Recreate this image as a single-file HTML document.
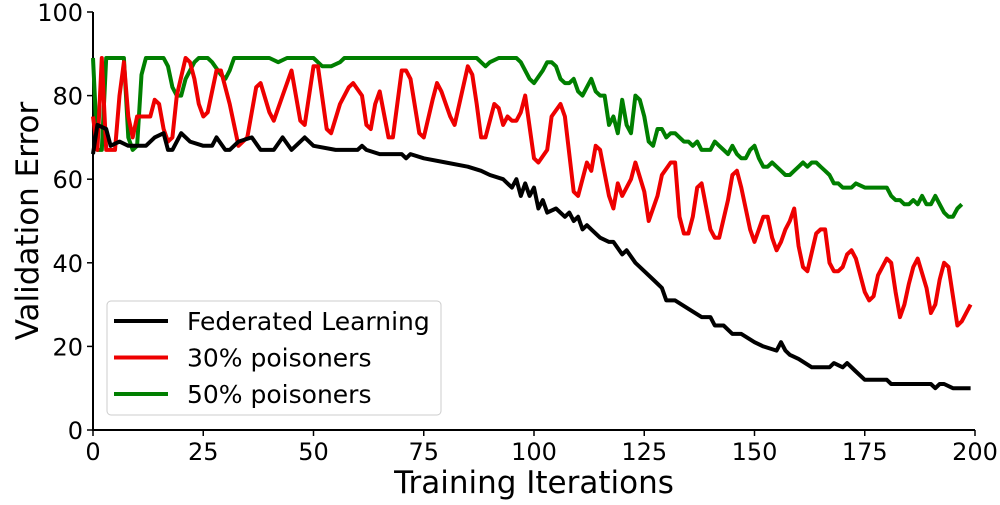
<!DOCTYPE html>
<html><head><meta charset="utf-8"><style>
body{margin:0;background:#fff;}
svg text{font-family:"DejaVu Sans","Liberation Sans",sans-serif;fill:#000;}
</style></head><body>
<svg id="chart" width="1000" height="500" xmlns="http://www.w3.org/2000/svg"></svg>
<script>
const xTicks=[0,25,50,75,100,125,150,175,200];
const yTicks=[0,20,40,60,80,100];
const seriesNames=["Federated Learning","30% poisoners","50% poisoners"];
const seriesColors=["#000000","#ee0000","#007f00"];
const flX=[0,1,3,4,6,8,12,14,16,17,18,20,22,25,27,28,30,31,33,36,38,41,43,45,48,50,55,60,61,62,65,70,71,72,75,80,85,88,90,93,95,96,97,98,99,100,101,102,103,105,107,108,109,110,111,112,113,115,117,118,120,121,123,125,127,129,130,132,135,138,140,141,143,145,147,150,152,155,156,157,158,160,163,165,167,168,170,171,173,175,180,181,185,190,191,192,193,195,199];
const flY=[66,73,72,68,69,68,68,70,71,67,67,71,69,68,68,70,67,67,69,70,67,67,70,67,70,68,67,67,68,67,66,66,65,66,65,64,63,62,61,60,58,60,56,59,56,58,53,55,52,53,51,52,50,51,48,49,48,46,45,45,42,43,40,38,36,34,31,31,29,27,27,25,25,23,23,21,20,19,21,19,18,17,15,15,15,16,15,16,14,12,12,11,11,11,10,11,11,10,10];
const p30X=[0,1,2,3,5,6,7,8,9,10,13,14,15,16,17,18,19,21,22,23,24,25,26,28,29,31,33,35,37,38,40,41,43,45,47,48,50,51,53,54,56,58,59,61,62,63,64,65,67,68,70,71,72,74,75,77,78,79,80,81,82,85,86,87,88,89,91,92,93,94,95,96,97,98,100,101,103,104,106,107,109,110,112,113,114,115,117,118,119,120,122,123,125,126,128,129,131,132,133,134,135,136,137,138,140,141,142,144,145,146,147,149,150,152,153,154,155,156,157,158,159,160,161,162,164,165,166,167,168,169,170,171,172,173,175,176,177,178,180,181,182,183,184,185,186,187,189,190,191,192,193,194,196,197,199];
const p30Y=[75,67,89,67,67,80,88,75,70,75,75,79,78,72,69,70,80,89,88,84,78,75,76,86,86,78,68,70,82,83,76,74,80,86,74,73,87,87,72,71,78,82,83,80,73,72,78,81,70,70,86,86,84,71,70,79,83,81,78,75,73,87,85,78,70,70,78,77,73,75,74,74,76,80,65,64,67,75,78,75,57,56,64,62,68,67,56,53,59,56,60,64,57,50,56,61,64,64,51,47,47,51,58,59,48,46,46,55,61,62,58,48,45,51,51,46,43,45,48,50,53,44,39,38,47,48,48,40,38,38,39,42,43,41,33,31,32,37,41,40,33,27,30,35,39,41,34,28,30,36,40,39,25,26,30];
const p50X=[0,1,2,3,7,8,9,10,11,12,16,17,18,19,20,21,23,24,26,27,29,30,31,32,40,42,44,50,51,52,54,56,57,87,88,89,90,92,96,97,99,100,102,103,104,105,106,107,108,109,110,111,112,113,114,115,116,117,118,119,120,121,122,123,124,125,126,127,128,129,130,131,132,133,134,135,136,137,138,140,141,142,143,144,145,146,147,148,149,150,151,152,153,154,155,156,157,158,159,160,161,162,163,164,165,166,167,168,169,170,172,173,175,180,181,182,183,184,185,186,187,188,189,190,191,192,193,194,195,196,197];
const p50Y=[89,67,67,89,89,70,67,68,85,89,89,87,82,80,80,84,88,89,89,88,85,84,86,89,89,88,89,89,88,87,87,88,89,89,88,87,88,89,89,88,84,83,86,88,88,87,84,83,83,84,81,80,82,84,81,80,80,73,75,71,79,73,71,80,79,75,69,68,72,72,70,71,71,70,69,69,68,69,67,67,69,68,67,66,68,66,65,65,67,68,65,63,63,64,63,62,61,61,62,63,64,63,64,64,63,62,61,59,59,58,58,59,58,58,56,55,55,54,54,55,54,56,54,54,56,54,52,51,51,53,54];
const svg=document.getElementById('chart');
const NS='http://www.w3.org/2000/svg';
const X0=93,X1=975,Y0=430,Y1=12;
const sx=v=>X0+(v-0)/200*(X1-X0);
const sy=v=>Y0-(v-0)/100*(Y0-Y1);
function mk(t,a){const e=document.createElementNS(NS,t);for(const k in a)e.setAttribute(k,a[k]);svg.appendChild(e);return e;}
let e=mk('line',{x1:X0,y1:Y1,x2:X0,y2:Y0+1,stroke:'#000','stroke-width':2});


e=mk('line',{x1:X0-1,y1:Y0,x2:X1,y2:Y0,stroke:'#000','stroke-width':2});


xTicks.forEach(t=>{
 const l=mk('line',{x1:sx(t),y1:Y0,x2:sx(t),y2:Y0+6,stroke:'#000','stroke-width':1.5});
 
 
 const tx=mk('text',{x:sx(t),y:Y0+30,'font-size':24,'text-anchor':'middle'});
 tx.textContent=t;
 
 
});
yTicks.forEach(t=>{
 const l=mk('line',{x1:X0-6,y1:sy(t),x2:X0,y2:sy(t),stroke:'#000','stroke-width':1.5});
 
 
 const tx=mk('text',{x:X0-10,y:sy(t)+9,'font-size':24,'text-anchor':'end'});
 tx.textContent=t;
 
 
});
e=mk('text',{x:534,y:493,'font-size':31,'text-anchor':'middle'});
e.textContent='Training Iterations';


e=mk('text',{x:0,y:0,'font-size':31,'text-anchor':'middle',transform:'translate(38,221) rotate(-90)'});
e.textContent='Validation Error';


const all=[[flX,flY],[p30X,p30Y],[p50X,p50Y]];
const lineNames=['federated-learning-line','poisoners-30-line','poisoners-50-line'];
[2,1,0].forEach(i=>{
 const [xs,ys]=all[i];
 const d=xs.map((x,j)=>(j?'L':'M')+sx(x).toFixed(1)+','+sy(ys[j]).toFixed(1)).join('');
 const p=mk('path',{d:d,fill:'none',stroke:seriesColors[i],'stroke-width':4,'stroke-linejoin':'round'});
 
 
});
const lg=mk('rect',{x:107,y:301,width:334,height:114,rx:4,fill:'#fff','fill-opacity':0.85,stroke:'#ccc','stroke-width':1});


seriesNames.forEach((n,i)=>{
 const y=321+i*36.5;
 const l=mk('line',{x1:114,y1:y,x2:168,y2:y,stroke:seriesColors[i],'stroke-width':4});
 
 
 const t=mk('text',{x:187,y:y+9,'font-size':25});
 t.textContent=n;
 
 
});
</script>
</body></html>
